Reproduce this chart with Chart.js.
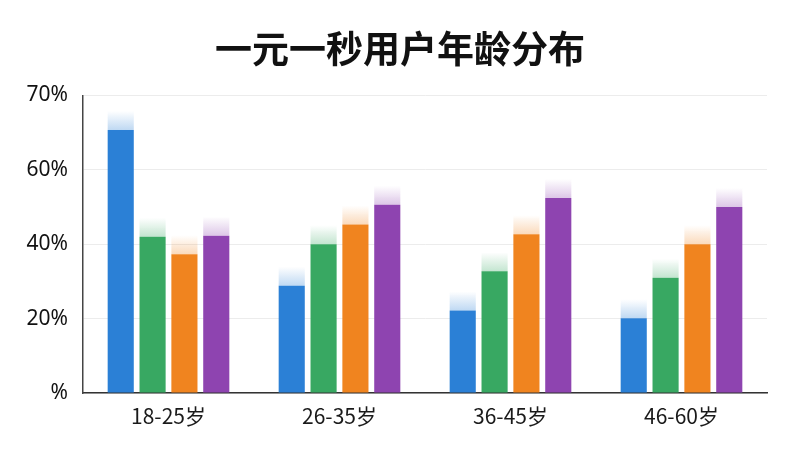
<!DOCTYPE html>
<html>
<head>
<meta charset="utf-8">
<script src="https://cdn.jsdelivr.net/npm/chart.js@4/dist/chart.umd.min.js"></script>
<style>
  html, body { margin: 0; padding: 0; background: #ffffff; }
  #wrap { width: 800px; height: 450px; }
</style>
</head>
<body>
<div id="wrap"><canvas id="c" width="800" height="450"></canvas></div>
<script>
const titleText = "一元一秒用户年龄分布";
const categories = ["18-25岁", "26-35岁", "36-45岁", "46-60岁"];
const seriesBlue   = [70.7, 28.8, 22.2, 20.1];
const seriesGreen  = [42.0, 40.0, 32.7, 31.0];
const seriesOrange = [37.3, 45.3, 42.7, 40.0];
const seriesPurple = [42.3, 50.6, 52.4, 50.0];
const yTickLabels = ["%", "20%", "40%", "60%", "70%"];

const colors = ["#2B80D6", "#38A862", "#F0841F", "#8E44B0"];

function hexToRgba(hex, a) {
  const n = parseInt(hex.slice(1), 16);
  return "rgba(" + ((n >> 16) & 255) + "," + ((n >> 8) & 255) + "," + (n & 255) + "," + a + ")";
}

const fadePlugin = {
  id: "fadeTops",
  afterDatasetsDraw(chart) {
    const ctx = chart.ctx;
    chart.data.datasets.forEach((ds, i) => {
      const meta = chart.getDatasetMeta(i);
      meta.data.forEach(bar => {
        const h = 19;
        const left = bar.x - bar.width / 2;
        const g = ctx.createLinearGradient(0, bar.y - h, 0, bar.y);
        g.addColorStop(0, hexToRgba(colors[i], 0));
        g.addColorStop(1, hexToRgba(colors[i], 0.3));
        ctx.save();
        ctx.fillStyle = g;
        ctx.fillRect(left, bar.y - h, bar.width, h);
        ctx.restore();
      });
    });
  }
};

new Chart(document.getElementById("c"), {
  type: "bar",
  data: {
    labels: categories,
    datasets: [
      { data: seriesBlue, backgroundColor: colors[0] },
      { data: seriesGreen, backgroundColor: colors[1] },
      { data: seriesOrange, backgroundColor: colors[2] },
      { data: seriesPurple, backgroundColor: colors[3] }
    ]
  },
  options: {
    responsive: false,
    animation: false,
    devicePixelRatio: 1,
    layout: { padding: { left: 0, right: 0, top: 27, bottom: 0 } },
    datasets: { bar: { categoryPercentage: 0.745, barPercentage: 0.82, borderWidth: 0 } },
    plugins: {
      legend: { display: false },
      tooltip: { enabled: false },
      title: {
        display: true,
        text: titleText,
        color: "#111111",
        font: { family: "'Noto Sans CJK SC', sans-serif", size: 37, weight: "bold", lineHeight: 1.2 },
        padding: { top: 0, bottom: 24 }
      }
    },
    scales: {
      x: {
        grid: { display: false, drawTicks: false },
        border: { display: true, color: "#333333", width: 1.5 },
        ticks: {
          color: "#1a1a1a",
          padding: 10,
          font: { family: "'Noto Sans CJK SC', sans-serif", size: 21 }
        },
        afterFit(scale) { scale.height = 57; }
      },
      y: {
        min: 0, max: 80,
        grid: { color: "#ececec", drawTicks: false, lineWidth: 1 },
        border: { display: true, color: "#444444", width: 1.5 },
        ticks: {
          stepSize: 20,
          color: "#111111",
          padding: 15,
          font: { family: "'Noto Sans', sans-serif", size: 21 },
          callback: (v, idx) => yTickLabels[idx]
        },
        afterFit(scale) { scale.width = 83; }
      },
      yRight: {
        position: "right",
        min: 0, max: 80,
        grid: { display: false, drawTicks: false },
        border: { display: false },
        ticks: { display: false },
        afterFit(scale) { scale.width = 33; }
      }
    }
  },
  plugins: [fadePlugin]
});
</script>
</body>
</html>
